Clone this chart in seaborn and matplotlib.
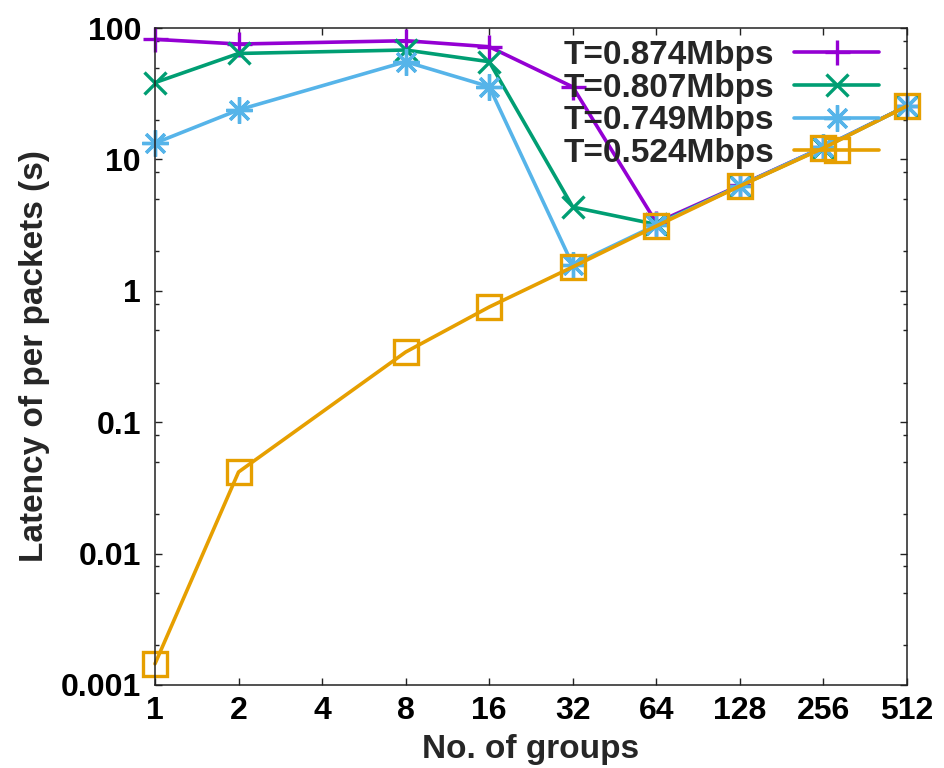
import matplotlib
matplotlib.use("Agg")
import matplotlib.pyplot as plt
import matplotlib.ticker as mticker
import seaborn as sns
import pandas as pd

# ---- data ----
groups = [1, 2, 8, 16, 32, 64, 128, 256, 512]
xticks = [1, 2, 4, 8, 16, 32, 64, 128, 256, 512]
yticks = [0.001, 0.01, 0.1, 1, 10, 100]
ytick_labels = ["0.001", "0.01", "0.1", "1", "10", "100"]

lat_0874 = [82, 75.5, 80, 72, 35.6, 3.3, 6.35, 12.4, 25.5]
lat_0807 = [38.4, 64, 68, 55.4, 4.34, 3.2, 6.3, 12.3, 25.5]
lat_0749 = [13.3, 23.8, 55.4, 35.8, 1.57, 3.17, 6.3, 12.4, 25.5]
lat_0524 = [0.00145, 0.0418, 0.342, 0.753, 1.52, 3.11, 6.27, 12.2, 25.5]

labels = ["T=0.874Mbps", "T=0.807Mbps", "T=0.749Mbps", "T=0.524Mbps"]
series = [lat_0874, lat_0807, lat_0749, lat_0524]
colors = ["#9400d3", "#009e73", "#56b4e9", "#e69f00"]
markers = ["+", "x", (8, 2, 0), "s"]
msizes = [18, 16, 19, 17]

sns.set_style("ticks")
plt.rcParams["font.family"] = ["Liberation Sans", "DejaVu Sans"]
plt.rcParams["font.weight"] = "bold"

fig = plt.figure(figsize=(9.45, 7.68), dpi=100)
ax = fig.add_axes([155 / 945, 1 - 685 / 768, (907 - 155) / 945, (685 - 28) / 768])

for lab, ys, c, m, ms in zip(labels, series, colors, markers, msizes):
    df = pd.DataFrame({"groups": groups, "latency": ys})
    sns.lineplot(data=df, x="groups", y="latency", ax=ax, color=c, marker=m,
                 markersize=ms, markeredgewidth=2.4, markeredgecolor=c,
                 markerfacecolor="none", linewidth=2.6, label=lab, clip_on=False)

ax.set_xscale("log", base=2)
ax.set_yscale("log")
ax.set_xlim(1, 512)
ax.set_ylim(0.001, 100)
ax.set_xticks(xticks)
ax.set_xticklabels([str(v) for v in xticks])
ax.xaxis.set_minor_locator(mticker.NullLocator())
ax.set_yticks(yticks)
ax.set_yticklabels(ytick_labels)
ax.yaxis.set_minor_locator(mticker.LogLocator(base=10, subs=[2, 5, 8], numticks=20))
ax.yaxis.set_minor_formatter(mticker.NullFormatter())

ax.tick_params(which="both", direction="in", top=True, right=True, width=1.0, colors="#222222")
ax.tick_params(which="major", length=5, labelsize=23, labelcolor="black")
ax.tick_params(axis="x", which="major", pad=8)
ax.tick_params(axis="y", which="major", pad=10)
ax.tick_params(which="minor", length=3)
for lbl in ax.get_xticklabels() + ax.get_yticklabels():
    lbl.set_fontweight("bold")
for sp in ax.spines.values():
    sp.set_linewidth(1.1)
    sp.set_color("#222222")

ax.set_xlabel("No. of groups", fontsize=24, fontweight="bold", labelpad=6)
ax.set_ylabel("Latency of per packets (s)", fontsize=24, fontweight="bold", labelpad=8)

leg = ax.legend(loc="upper right", bbox_to_anchor=(0.981, 1.002), frameon=False,
                markerfirst=False, handlelength=2.55, handletextpad=0.6,
                labelspacing=0.05, borderaxespad=0.0,
                prop={"size": 24, "weight": "bold"})

fig.savefig("out.png", dpi=100)
